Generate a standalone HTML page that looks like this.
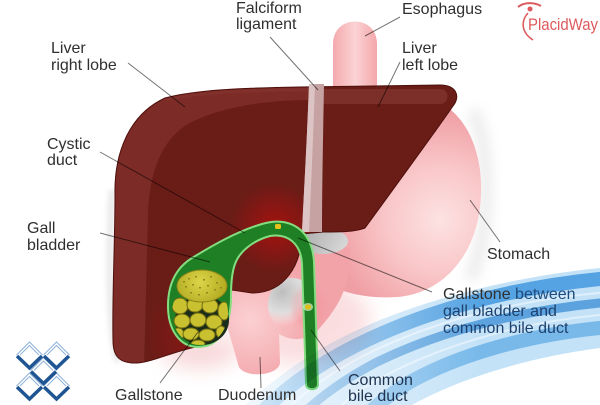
<!DOCTYPE html>
<html><head><meta charset="utf-8">
<style>
html,body{margin:0;padding:0;background:#fff;}
svg{display:block;}
text{font-family:"Liberation Sans",sans-serif;font-size:16px;fill:#2f2f2f;}
</style></head><body>
<svg width="600" height="405" viewBox="0 0 600 405" xmlns="http://www.w3.org/2000/svg">
<defs>
 <filter id="b3" filterUnits="userSpaceOnUse" x="0" y="0" width="600" height="405"><feGaussianBlur stdDeviation="3"/></filter>
 <filter id="b6" filterUnits="userSpaceOnUse" x="0" y="0" width="600" height="405"><feGaussianBlur stdDeviation="6"/></filter>
 <filter id="b10" filterUnits="userSpaceOnUse" x="0" y="0" width="600" height="405"><feGaussianBlur stdDeviation="10"/></filter>
 <radialGradient id="stomG" gradientUnits="userSpaceOnUse" cx="440" cy="220" r="110">
  <stop offset="0" stop-color="#fde2e2"/>
  <stop offset="0.5" stop-color="#f9c6c8"/>
  <stop offset="1" stop-color="#ef9ea3"/>
 </radialGradient>
 <linearGradient id="esoG" gradientUnits="userSpaceOnUse" x1="333" y1="0" x2="377" y2="0">
  <stop offset="0" stop-color="#f4a9ad"/>
  <stop offset="0.5" stop-color="#fbd3d4"/>
  <stop offset="1" stop-color="#f3a7ab"/>
 </linearGradient>
 <radialGradient id="panG" gradientUnits="userSpaceOnUse" cx="250" cy="320" r="70">
  <stop offset="0" stop-color="#fbd0d2"/>
  <stop offset="1" stop-color="#f2a3a8"/>
 </radialGradient>
 <radialGradient id="grayG" gradientUnits="userSpaceOnUse" cx="282" cy="292" r="34">
  <stop offset="0" stop-color="#bdbdbd"/>
  <stop offset="0.6" stop-color="#dedede"/>
  <stop offset="1" stop-color="#f6e6e6" stop-opacity="0"/>
 </radialGradient>
 <linearGradient id="grayB" gradientUnits="userSpaceOnUse" x1="300" y1="228" x2="345" y2="252">
  <stop offset="0" stop-color="#a9a9a9"/>
  <stop offset="1" stop-color="#d9d9d9"/>
 </linearGradient>
 <radialGradient id="redGlow" gradientUnits="userSpaceOnUse" cx="275" cy="228" r="45">
  <stop offset="0" stop-color="#b0100e" stop-opacity="0.85"/>
  <stop offset="1" stop-color="#b0100e" stop-opacity="0"/>
 </radialGradient>
 <radialGradient id="redGlow2" gradientUnits="userSpaceOnUse" cx="195" cy="335" r="50">
  <stop offset="0" stop-color="#b01010" stop-opacity="0.45"/>
  <stop offset="1" stop-color="#b01010" stop-opacity="0"/>
 </radialGradient>
 <radialGradient id="stoneG" gradientUnits="userSpaceOnUse" cx="200" cy="282" r="26">
  <stop offset="0" stop-color="#dcd548"/>
  <stop offset="1" stop-color="#b3ab22"/>
 </radialGradient>
 <clipPath id="liverClip">
  <path d="M115,195 C114,155 128,115 165,98 C195,90 240,88 300,87 L440,85 C456,85 461,96 453,106 C440,125 400,180 365,228 C355,232 340,232 323,232 L302,234 C301,265 285,293 252,293 L232,290 L200,346 C170,352 150,364 132,363 C118,362 113,355 113,340 C112,300 115,240 115,195 Z"/>
 </clipPath>
 <clipPath id="bulbClip">
  <ellipse cx="200" cy="313" rx="28" ry="32"/>
 </clipPath>
 <clipPath id="swClip">
  <path d="M600,268 C520,276 420,298 345,336 C300,358 268,385 245,405 L412,405 C460,378 530,357 600,348 Z"/>
 </clipPath>
 <linearGradient id="swFade" gradientUnits="userSpaceOnUse" x1="245" y1="0" x2="480" y2="0">
  <stop offset="0" stop-color="#fff" stop-opacity="0.25"/>
  <stop offset="1" stop-color="#fff" stop-opacity="1"/>
 </linearGradient>
 <mask id="swMask" maskUnits="userSpaceOnUse" x="0" y="0" width="600" height="405">
  <rect x="0" y="0" width="600" height="405" fill="url(#swFade)"/>
 </mask>
</defs>

<!-- soft shadows -->
<path d="M472,110 C490,140 492,230 470,280" stroke="#000" stroke-opacity="0.08" stroke-width="12" fill="none" filter="url(#b6)"/>
<path d="M112,190 C109,260 109,330 118,362" stroke="#000" stroke-opacity="0.1" stroke-width="6" fill="none" filter="url(#b3)"/>
<ellipse cx="300" cy="320" rx="70" ry="45" fill="#f2a0a6" opacity="0.35" filter="url(#b10)"/>
<ellipse cx="200" cy="352" rx="38" ry="16" fill="#e77a80" opacity="0.3" filter="url(#b10)"/>

<!-- esophagus -->
<path d="M333,110 L333,44 C333,14 377,14 377,44 L377,110 Z" fill="url(#esoG)"/>

<!-- stomach -->
<path d="M345,92 C420,80 470,100 480,170 C488,240 452,292 398,297 C352,300 318,285 298,262 L298,232 Z" fill="url(#stomG)"/>

<!-- pancreas / duodenum -->
<path d="M208,258 C230,240 300,238 350,248 C352,285 338,308 318,330 C302,343 290,340 279,334 L280,362 C280,377 240,379 238,364 L222,308 C212,288 206,270 208,258 Z" fill="url(#panG)"/>
<ellipse cx="292" cy="305" rx="24" ry="27" fill="url(#grayG)"/>
<ellipse cx="308" cy="307" rx="16" ry="20" fill="#f28f95" opacity="0.35" filter="url(#b3)"/>

<!-- gray blob under left lobe -->
<ellipse cx="323" cy="241" rx="25" ry="13" fill="url(#grayB)"/>

<!-- liver -->
<g clip-path="url(#liverClip)">
 <rect x="100" y="80" width="370" height="290" fill="#7c2b26"/>
 <path d="M312,100 C262,100 218,108 188,124 C162,140 150,170 148,212 L144,370 L470,370 L470,80 L312,80 Z" fill="#6a1c17"/>
 <rect x="100" y="80" width="370" height="290" fill="url(#redGlow)"/>
 <rect x="100" y="80" width="370" height="290" fill="url(#redGlow2)"/>
 <path d="M323,89 L440,89 C450,89 450,104 440,104 L323,104 Z" fill="#8a3e39" opacity="0.55"/>
 <path d="M165,100 C200,92 250,90 308,90" stroke="#8a3a34" stroke-width="3" fill="none" opacity="0.4"/>
</g>
<path d="M115,195 C114,155 128,115 165,98 C195,90 240,88 300,87 L440,85 C456,85 461,96 453,106 C440,125 400,180 365,228 C355,232 340,232 323,232 L302,234 C301,265 285,293 252,293 L232,290 L200,346 C170,352 150,364 132,363 C118,362 113,355 113,340 C112,300 115,240 115,195 Z" fill="none" stroke="#4e100c" stroke-width="1"/>

<!-- falciform ligament -->
<path d="M309,84 L324,84 C323,140 322,190 322,232 L302,232 C304,190 307,140 309,84 Z" fill="#c6a2a2"/>
<path d="M309,84 L315,84 C313,140 311,190 309,232 L302,232 C304,190 307,140 309,84 Z" fill="#dcc4c4"/>

<!-- gallbladder + ducts -->
<path d="M198,347 C180,347 168,330 168,306 C168,284 176,268 192,258 C210,247 235,232 262,224 C288,216 312,228 314,262 L318,384 C318,391 306,391 306,384 L302,264 C301,243 287,233 270,236 C255,240 240,250 235,264 C232,272 231,282 231,296 C231,326 220,347 198,347 Z" fill="#1f7f24" stroke="#84de80" stroke-width="2"/>
<ellipse cx="202" cy="320" rx="27" ry="25" fill="#1a2d1a"/>
<g clip-path="url(#bulbClip)">
 <g fill="#c9c12f" stroke="#6f6b12" stroke-width="1">
  <ellipse cx="180" cy="306" rx="8" ry="8"/>
  <ellipse cx="195" cy="305" rx="8" ry="7"/>
  <ellipse cx="210" cy="306" rx="8" ry="7"/>
  <ellipse cx="224" cy="311" rx="6" ry="9"/>
  <ellipse cx="182" cy="321" rx="8" ry="7"/>
  <ellipse cx="198" cy="320" rx="8" ry="7"/>
  <ellipse cx="214" cy="322" rx="8" ry="7"/>
  <ellipse cx="178" cy="334" rx="6" ry="6"/>
  <ellipse cx="191" cy="334" rx="8" ry="6"/>
  <ellipse cx="207" cy="335" rx="8" ry="6"/>
  <ellipse cx="221" cy="332" rx="5" ry="6"/>
  <ellipse cx="198" cy="344" rx="7" ry="4"/>
 </g>
</g>
<ellipse cx="202" cy="286" rx="25" ry="16" fill="url(#stoneG)" stroke="#8a8418" stroke-width="1"/>
<g fill="#8f891c">
 <rect x="188" y="278" width="2" height="1.5"/><rect x="195" y="276" width="2" height="1.5"/>
 <rect x="203" y="279" width="2" height="1.5"/><rect x="210" y="276" width="2" height="1.5"/>
 <rect x="216" y="282" width="2" height="1.5"/><rect x="185" y="286" width="2" height="1.5"/>
 <rect x="192" y="284" width="2" height="1.5"/><rect x="199" y="287" width="2" height="1.5"/>
 <rect x="207" y="285" width="2" height="1.5"/><rect x="214" y="289" width="2" height="1.5"/>
 <rect x="190" y="292" width="2" height="1.5"/><rect x="198" y="294" width="2" height="1.5"/>
 <rect x="206" y="292" width="2" height="1.5"/><rect x="220" y="287" width="2" height="1.5"/>
 <rect x="183" y="281" width="2" height="1.5"/>
</g>
<rect x="275" y="224" width="6" height="5" rx="1.5" fill="#e3c01a"/>
<ellipse cx="308" cy="307" rx="5" ry="4" fill="#d8f0c8" opacity="0.7"/>
<ellipse cx="308" cy="307" rx="3" ry="2.5" fill="#e0be18"/>

<!-- blue swoosh -->
<g mask="url(#swMask)" style="mix-blend-mode:multiply">
 <g clip-path="url(#swClip)">
  <rect x="240" y="260" width="370" height="150" fill="#c4e2f7"/>
  <path d="M610,278 C520,286 430,308 355,346 C315,366 283,390 262,412" stroke="#3a93dc" stroke-width="14" fill="none" opacity="0.8"/>
  <path d="M610,302 C520,310 440,331 375,363 C345,379 320,397 305,412" stroke="#2f87d3" stroke-width="9" fill="none" opacity="0.7"/>
  <path d="M610,327 C530,334 460,354 410,382 C390,394 378,404 370,412" stroke="#58a8e4" stroke-width="14" fill="none" opacity="0.7"/>
  <path d="M610,292 C520,299 435,320 365,355 C330,373 300,395 285,412" stroke="#e6f3fc" stroke-width="2" fill="none" opacity="0.8"/>
  <path d="M610,314 C525,321 450,343 390,373 C365,386 345,400 335,412" stroke="#e6f3fc" stroke-width="2" fill="none" opacity="0.8"/>
 </g>
</g>

<!-- leader lines -->
<g stroke="#000" stroke-opacity="0.55" stroke-width="1" fill="none">
 <line x1="128" y1="63" x2="185" y2="107"/>
 <line x1="270" y1="37" x2="318" y2="90"/>
 <line x1="400" y1="17" x2="365" y2="36"/>
 <line x1="400" y1="62" x2="378" y2="107"/>
 <line x1="100" y1="152" x2="245" y2="233"/>
 <line x1="100" y1="233" x2="210" y2="262"/>
 <line x1="160" y1="383" x2="198" y2="332"/>
 <line x1="261" y1="388" x2="260" y2="357"/>
 <line x1="340" y1="371" x2="311" y2="330"/>
 <line x1="470" y1="200" x2="500" y2="242"/>
 <line x1="298" y1="238" x2="432" y2="292"/>
</g>

<!-- labels -->
<text x="51" y="53">Liver</text>
<text x="51" y="70">right lobe</text>
<text x="236" y="13">Falciform</text>
<text x="236" y="29">ligament</text>
<text x="402" y="14">Esophagus</text>
<text x="402" y="53">Liver</text>
<text x="402" y="70">left lobe</text>
<text x="47" y="149">Cystic</text>
<text x="47" y="165">duct</text>
<text x="27" y="233">Gall</text>
<text x="27" y="250">bladder</text>
<text x="115" y="400">Gallstone</text>
<text x="218" y="400">Duodenum</text>
<text x="348" y="385" style="fill:#1f3350">Common</text>
<text x="348" y="401" style="fill:#1f3350">bile duct</text>
<text x="487" y="259">Stomach</text>
<text x="443" y="299">Gallstone <tspan style="fill:#1f4a7c">between</tspan></text>
<text x="443" y="316" style="fill:#1d416e">gall bladder and</text>
<text x="443" y="333" style="fill:#1d416e">common bile duct</text>

<!-- PlacidWay logo -->
<path d="M518,7 C524,2 534,2 541,6" stroke="#dc5a5c" stroke-width="2" fill="none"/>
<circle cx="530" cy="9" r="2.5" fill="#dc5a5c"/>
<path d="M528,13 C520,22 522,33 533,40" stroke="#dc5a5c" stroke-width="1.5" fill="none"/>
<text x="528" y="30" textLength="70" lengthAdjust="spacingAndGlyphs" style="fill:#dc5a5c;font-size:17px">PlacidWay</text>

<!-- diamond logo -->
<g fill="none">
 <g stroke="#8fb2d8" stroke-width="1">
  <polyline points="16.5,355 29.5,342 42.5,355"/><polyline points="20,355 29.5,345.5 39,355"/>
  <polyline points="43.5,355 56.5,342 69.5,355"/><polyline points="47,355 56.5,345.5 66,355"/>
  <polyline points="30.5,370.5 43.5,357.5 56.5,370.5"/><polyline points="34,370.5 43.5,361 53,370.5"/>
  <polyline points="16.5,386 29.5,373 42.5,386"/><polyline points="20,386 29.5,376.5 39,386"/>
  <polyline points="43.5,386 56.5,373 69.5,386"/><polyline points="47,386 56.5,376.5 66,386"/>
 </g>
 <g stroke="#1f5592" stroke-width="3.5" stroke-linejoin="miter">
  <polyline points="17,356 29.5,368 42,356"/>
  <polyline points="44,356 56.5,368 69,356"/>
  <polyline points="31,371.5 43.5,383.5 56,371.5"/>
  <polyline points="17,387 29.5,399 42,387"/>
  <polyline points="44,387 56.5,399 69,387"/>
 </g>
</g>
</svg>
</body></html>
